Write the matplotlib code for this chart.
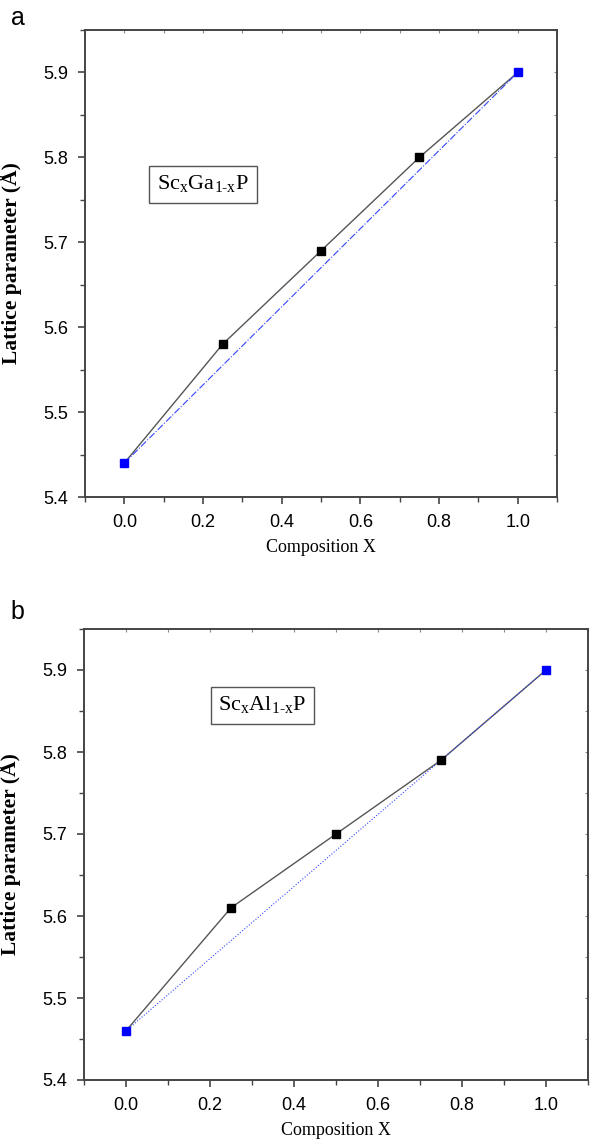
import matplotlib
matplotlib.use("Agg")
import matplotlib.pyplot as plt
from matplotlib.ticker import MultipleLocator

# Data
composition = [0.0, 0.25, 0.5, 0.75, 1.0]
lattice_a = [5.44, 5.58, 5.69, 5.80, 5.90]   # ScxGa1-xP
lattice_b = [5.46, 5.61, 5.70, 5.79, 5.90]   # ScxAl1-xP
vegard_x = [0.0, 1.0]
vegard_a = [5.44, 5.90]
vegard_b = [5.46, 5.90]
x_ticks = [0.0, 0.2, 0.4, 0.6, 0.8, 1.0]
y_ticks = [5.4, 5.5, 5.6, 5.7, 5.8, 5.9]
labels_a = r'Sc$_\mathregular{x}$Ga$_\mathregular{1\text{-}x}$P'
labels_b = r'Sc$_\mathregular{x}$Al$_\mathregular{1\text{-}x}$P'

tick_font = ['Liberation Sans Narrow', 'Liberation Sans', 'DejaVu Sans']
serif_font = ['Liberation Serif', 'DejaVu Serif']

plt.rcParams['mathtext.fontset'] = 'custom'
plt.rcParams['mathtext.rm'] = 'Liberation Serif'

fig = plt.figure(figsize=(5.96, 11.46), dpi=100)

def panel(rect, y, vy, vstyle, formula, fpos, letter, letter_y):
    ax = fig.add_axes(rect)
    ax.plot(composition, y, color='#555555', lw=1.0, zorder=2)
    ax.plot(vegard_x, vy, color='#3344ff', lw=0.8, ls=vstyle, zorder=2)
    ax.plot(composition[1:-1], y[1:-1], ls='none', marker='s', ms=5.5,
            color='black', zorder=3)
    ax.plot([composition[0], composition[-1]], [y[0], y[-1]], ls='none',
            marker='s', ms=5.5, color='#0000ff', zorder=3)
    ax.set_xlim(-0.1, 1.1)
    ax.set_ylim(5.4, 5.95)
    ax.set_xticks(x_ticks)
    ax.set_yticks(y_ticks)
    ax.set_xticklabels([f'{v:.1f}' for v in x_ticks], family=tick_font, fontsize=13)
    ax.set_yticklabels([f'{v:.1f}' for v in y_ticks], family=tick_font, fontsize=13)
    ax.xaxis.set_minor_locator(MultipleLocator(0.1))
    ax.yaxis.set_minor_locator(MultipleLocator(0.05))
    ax.tick_params(which='major', direction='out', length=5, width=1.2, color='#444444', pad=7)
    ax.tick_params(which='minor', direction='out', length=3.5, width=1.0, color='#444444')
    for s in ax.spines.values():
        s.set_color('#444444')
        s.set_linewidth(1.4)
    # inward ticks on top/right
    top = ax.secondary_xaxis('top')
    top.set_xticks([-0.1 + 0.1 * i for i in range(13)])
    top.tick_params(direction='in', length=2.5, width=0.8, color='#888888', labeltop=False)
    top.spines['top'].set_visible(False)
    right = ax.secondary_yaxis('right')
    right.set_yticks([5.4 + 0.05 * i for i in range(12)])
    right.tick_params(direction='in', length=2.5, width=0.8, color='#888888', labelright=False)
    right.spines['right'].set_visible(False)
    ax.set_xlabel('Composition X', family=serif_font, fontsize=13, labelpad=6)
    ax.set_ylabel('Lattice parameter (Å)', family=serif_font, fontsize=15.5,
                  fontweight='bold')
    ax.yaxis.set_label_coords(-(85 - 22) / (rect[2] * 596), 0.5)
    ax.text(fpos[0], fpos[1], formula, family=serif_font, fontsize=16,
            ha='center', va='center',
            bbox=dict(boxstyle='square,pad=0.35', fc='white', ec='#555555', lw=1.0))
    fig.text(0.018, letter_y, letter, fontsize=18, family='Liberation Sans',
             ha='left', va='center')
    return ax

panel([85/596, 1 - 497/1146, 472/596, 467/1146], lattice_a, vegard_a, '-.',
      labels_a, (0.20, 5.768), 'a', 1 - 18/1146)
panel([84/596, 1 - 1080/1146, 504/596, 451/1146], lattice_b, vegard_b, ':',
      labels_b, (0.325, 5.857), 'b', 1 - 612/1146)

fig.savefig('out.png', dpi=100)
